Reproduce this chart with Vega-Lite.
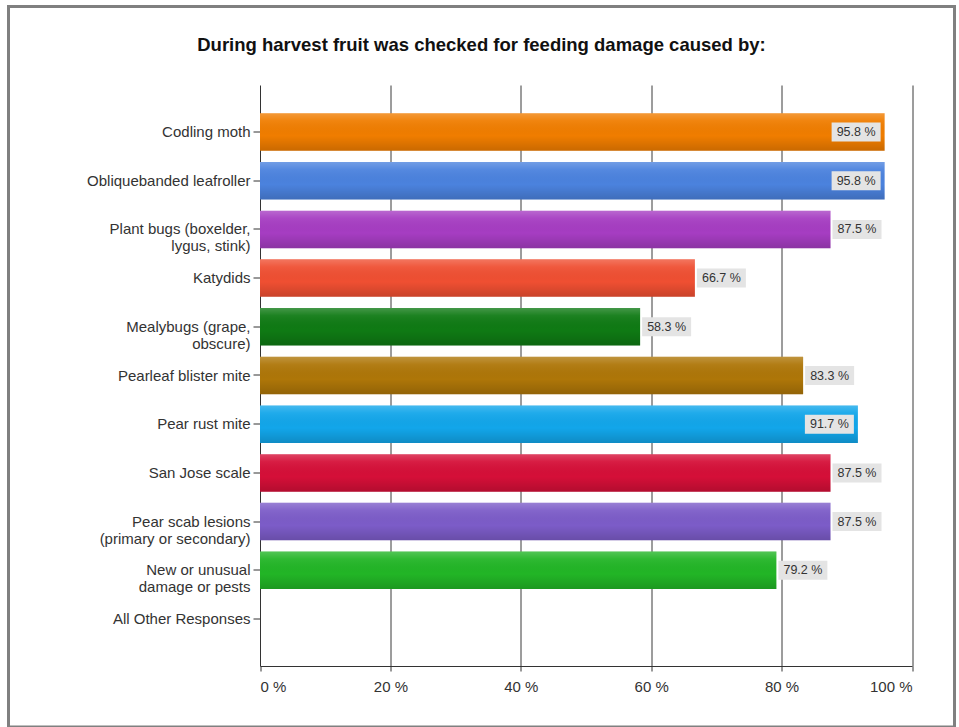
{
  "$schema": "https://vega.github.io/schema/vega-lite/v6.json",
  "autosize": {"type": "none"},
  "padding": {"left": 8.5, "top": 6.5, "right": 4.5, "bottom": 0},
  "width": 946,
  "height": 720.5,
  "background": "white",
  "config": {
    "view": {"stroke": "#808080", "strokeWidth": 3, "fill": "white"},
    "font": "Liberation Sans"
  },
  "title": {
    "text": "During harvest fruit was checked for feeding damage caused by:",
    "font": "Liberation Sans",
    "fontSize": 18.5,
    "fontWeight": "bold",
    "color": "#111111",
    "frame": "group",
    "anchor": "middle",
    "baseline": "middle",
    "offset": -56.5
  },
  "data": {
    "values": [
      {"category": "Codling moth", "pct": 95.8},
      {"category": "Obliquebanded leafroller", "pct": 95.8},
      {"category": "Plant bugs (boxelder,\nlygus, stink)", "pct": 87.5},
      {"category": "Katydids", "pct": 66.7},
      {"category": "Mealybugs (grape,\nobscure)", "pct": 58.3},
      {"category": "Pearleaf blister mite", "pct": 83.3},
      {"category": "Pear rust mite", "pct": 91.7},
      {"category": "San Jose scale", "pct": 87.5},
      {"category": "Pear scab lesions\n(primary or secondary)", "pct": 87.5},
      {"category": "New or unusual\ndamage or pests", "pct": 79.2},
      {"category": "All Other Responses", "pct": 0}
    ]
  },
  "resolve": {"axis": {"x": "independent"}},
  "encoding": {
    "y": {
      "field": "category",
      "type": "nominal",
      "sort": null,
      "scale": {"range": [78.5, 659.5], "paddingInner": 0.23, "paddingOuter": 0.58},
      "axis": {
        "title": null,
        "offset": -251.5,
        "labelExpr": "split(datum.label, '\\n')",
        "labelFont": "Liberation Sans",
        "labelFontSize": 15,
        "labelColor": "#333333",
        "labelLineHeight": 17,
        "labelPadding": 3,
        "labelLimit": 300,
        "tickSize": 7,
        "tickColor": "#333333",
        "domainColor": "#333333",
        "grid": false
      }
    }
  },
  "layer": [
    {
      "mark": {"type": "bar"},
      "encoding": {
        "x": {
          "field": "pct",
          "type": "quantitative",
          "scale": {"domain": [0, 100], "range": [251.5, 903.5], "nice": false},
          "axis": {
            "title": null,
            "orient": "bottom",
            "offset": -61,
            "values": [0, 20, 40, 60, 80, 100],
            "labelExpr": "datum.value + ' %'",
            "labelFont": "Liberation Sans",
            "labelFontSize": 15,
            "labelColor": "#333333",
            "labelPadding": 8,
            "tickSize": 5,
            "tickColor": "#333333",
            "domainColor": "#333333",
            "grid": false
          }
        },
        "color": {
          "field": "category",
          "type": "nominal",
          "legend": null,
          "scale": {
            "domain": ["Codling moth", "Obliquebanded leafroller", "Plant bugs (boxelder,\nlygus, stink)", "Katydids", "Mealybugs (grape,\nobscure)", "Pearleaf blister mite", "Pear rust mite", "San Jose scale", "Pear scab lesions\n(primary or secondary)", "New or unusual\ndamage or pests", "All Other Responses"],
            "range": ["#f07d00", "#4b82de", "#a63dc2", "#ef4f32", "#0f7a14", "#ae7608", "#12a6ea", "#d50f38", "#7c5cc8", "#22b526", "#999999"]
          }
        }
      }
    },
    {
      "mark": {
        "type": "bar",
        "fill": {
          "gradient": "linear",
          "x1": 0, "y1": 0, "x2": 0, "y2": 1,
          "stops": [
            {"offset": 0, "color": "rgba(255,255,255,0.22)"},
            {"offset": 0.2, "color": "rgba(255,255,255,0.06)"},
            {"offset": 0.6, "color": "rgba(0,0,0,0)"},
            {"offset": 1, "color": "rgba(0,0,0,0.16)"}
          ]
        }
      },
      "encoding": {
        "x": {
          "field": "pct",
          "type": "quantitative",
          "axis": {
            "title": null,
            "orient": "top",
            "values": [20, 40, 60, 80, 100],
            "labels": false,
            "ticks": false,
            "domain": false,
            "grid": true,
            "gridColor": "#3a3a3a",
            "gridOpacity": 1,
            "gridWidth": 1
          }
        }
      }
    },
    {
      "transform": [{"filter": "datum.pct > 0 && datum.pct < 90"}],
      "mark": {"type": "point", "shape": "M-1,-0.388H1V0.388H-1Z", "size": 2401, "filled": true, "fill": "#e4e4e4", "opacity": 1, "strokeWidth": 0, "xOffset": 26.5},
      "encoding": {"x": {"field": "pct", "type": "quantitative", "axis": null}}
    },
    {
      "transform": [{"filter": "datum.pct >= 90"}],
      "mark": {"type": "point", "shape": "M-1,-0.388H1V0.388H-1Z", "size": 2401, "filled": true, "fill": "#e4e4e4", "opacity": 1, "strokeWidth": 0, "xOffset": -28.5},
      "encoding": {"x": {"field": "pct", "type": "quantitative", "axis": null}}
    },
    {
      "transform": [
        {"filter": "datum.pct > 0 && datum.pct < 90"},
        {"calculate": "format(datum.pct, '.1f') + ' %'", "as": "lbl"}
      ],
      "mark": {"type": "text", "font": "Liberation Sans", "fontSize": 12.5, "color": "#333333", "align": "center", "baseline": "middle", "xOffset": 26.5},
      "encoding": {"x": {"field": "pct", "type": "quantitative", "axis": null}, "text": {"field": "lbl"}}
    },
    {
      "transform": [
        {"filter": "datum.pct >= 90"},
        {"calculate": "format(datum.pct, '.1f') + ' %'", "as": "lbl"}
      ],
      "mark": {"type": "text", "font": "Liberation Sans", "fontSize": 12.5, "color": "#333333", "align": "center", "baseline": "middle", "xOffset": -28.5},
      "encoding": {"x": {"field": "pct", "type": "quantitative", "axis": null}, "text": {"field": "lbl"}}
    }
  ]
}
